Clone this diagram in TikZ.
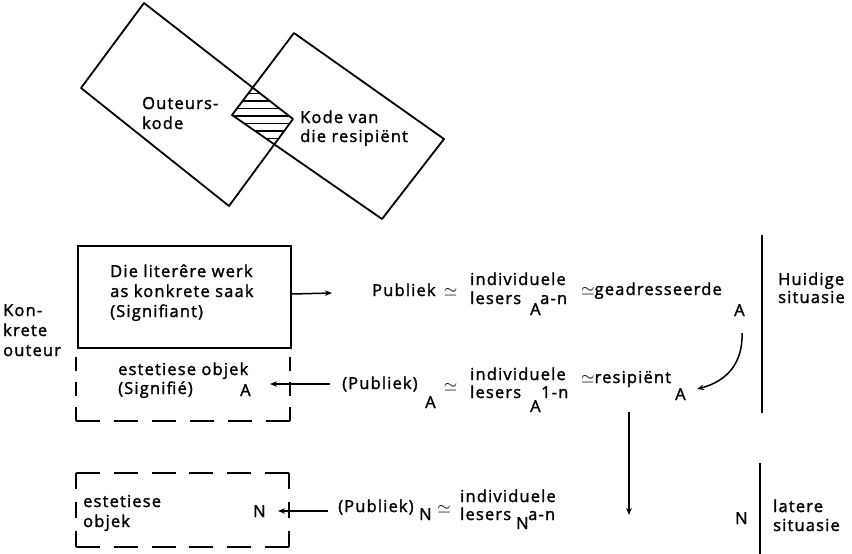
\documentclass[tikz,border=0pt]{standalone}
\usepackage{fontspec}
\setmainfont{Open Sans}[LetterSpace=7,FakeBold=1.6]
\usetikzlibrary{arrows.meta}

\begin{document}
\begin{tikzpicture}[x=1pt,y=-1pt,
  txt/.style={anchor=base west, inner sep=0pt, font=\fontsize{16.5}{20}\selectfont},
  mid/.style={anchor=base, inner sep=0pt, font=\fontsize{16.5}{20}\selectfont},
  frame/.style={inner sep=0pt, anchor=north west},
  edge/.style={line width=2pt},
  arr/.style={line width=1.5pt, -{Stealth[length=7pt,width=5.5pt]}},
  code/.style={line width=1.8pt, line join=round},
  hatch/.style={line width=1.7pt},
]
\useasboundingbox (0,0) rectangle (852,554);

% ---- the two overlapping codes ----
\coordinate (ol) at (81,88);
\coordinate (ot) at (144,3);
\coordinate (or) at (293,119);
\coordinate (ob) at (229,206);
\coordinate (rl) at (232,115);
\coordinate (rt) at (294,33);
\coordinate (rr) at (444,139);
\coordinate (rb) at (382,219);

\begin{scope}
  \clip (ol) -- (ot) -- (or) -- (ob) -- cycle;
  \clip (rl) -- (rt) -- (rr) -- (rb) -- cycle;
  \foreach \y in {86,93.5,...,152} \draw[hatch] (220,\y) -- (310,\y);
\end{scope}
\draw[code] (ol) -- (ot) -- (or) -- (ob) -- cycle;
\draw[code] (rl) -- (rt) -- (rr) -- (rb) -- cycle;

\node[txt] (ok1) at (142,109) {Outeurs-};
\node[txt] (ok2) at (142,129) {kode};
\node[txt] (rk1) at (300,123) {Kode van};
\node[txt] (rk2) at (300,142) {die resipiënt};

% ---- concrete author ----
\node[txt] (ko1) at (3,316) {Kon-};
\node[txt] (ko2) at (3,336) {krete};
\node[txt] (ko3) at (3,356) {outeur};

% ---- the literary work (signifiant) ----
\node[frame, draw, line width=2pt, minimum width=213pt, minimum height=102pt] (werk) at (77,245) {};
\node[txt] (w1) at (110,277) {Die literêre werk};
\node[txt] (w2) at (110,297) {as konkrete saak};
\node[txt] (w3) at (110,317) {(Signifiant)};

% ---- aesthetic object A (open top) ----
\node[frame, minimum width=214pt, minimum height=64pt] (obA) at (76,357) {};
\draw[edge, dash pattern=on 14pt off 11pt] (obA.north west) -- (obA.south west);
\draw[edge, dash pattern=on 24pt off 14pt] (obA.south west) -- (obA.south east);
\draw[edge, dash pattern=on 14pt off 11pt] (obA.north east) -- (obA.south east);
\node[txt] (a1) at (118,375) {estetiese objek};
\node[txt] (a2) at (118,394) {(Signifié)};
\node[txt] (a3) at (240,396) {A};

% ---- aesthetic object N ----
\node[frame, minimum width=213pt, minimum height=74pt] (obN) at (76,473) {};
\draw[edge, dash pattern=on 24pt off 13.8pt] (obN.north west) -- (obN.north east);
\draw[edge, dash pattern=on 24pt off 13.8pt] (obN.south west) -- (obN.south east);
\draw[edge, dash pattern=on 16pt off 13pt] (obN.north west) -- (obN.south west);
\draw[edge, dash pattern=on 16pt off 13pt] (obN.north east) -- (obN.south east);
\node[txt] (n1) at (83,507) {estetiese};
\node[txt] (n2) at (83,527) {objek};
\node[txt] (n3) at (253,517) {N};

% ---- row 1: present audience ----
\node[txt] (p1) at (372,296) {Publiek};
\node[mid] (e1) at (450.5,296) {$\simeq$};
\node[txt] (i1) at (470,285) {individuele};
\node[txt] (l1) at (470,304) {lesers};
\node[txt] (s1) at (530,315) {A};
\node[txt] (r1) at (540,304) {a-n};
\node[txt] (g1) at (581,295) {$\simeq$geadresseerde};
\node[txt] (gA) at (734,316) {A};
\node[txt] (h1) at (778,285) {Huidige};
\node[txt] (h2) at (778,303) {situasie};

% ---- row 2: audience A ----
\node[txt] (p2) at (342,389) {(Publiek)};
\node[txt] (s2a) at (425,408) {A};
\node[mid] (e2) at (450.5,391) {$\simeq$};
\node[txt] (i2) at (470,380) {individuele};
\node[txt] (l2) at (470,398) {lesers};
\node[txt] (s2) at (530,412) {A};
\node[txt] (r2) at (541,398) {1-n};
\node[txt] (g2) at (581,383) {$\simeq$resipiënt};
\node[txt] (rA) at (675,400) {A};

% ---- row 3: audience N ----
\node[txt] (p3) at (338,512) {(Publiek)};
\node[txt] (s3a) at (419,520) {N};
\node[mid] (e3) at (444,513) {$\simeq$};
\node[txt] (i3) at (460,502) {individuele};
\node[txt] (l3) at (460,520) {lesers};
\node[txt] (s3) at (516,529) {N};
\node[txt] (r3) at (528,520) {a-n};
\node[txt] (nN) at (735,524) {N};
\node[txt] (t1) at (773,512) {latere};
\node[txt] (t2) at (773,531) {situasie};

% ---- situation dividers ----
\coordinate (v1t) at (762,235);
\coordinate (v1b) at (762,413);
\coordinate (v2t) at (760,463);
\coordinate (v2b) at (760,554);
\draw[line width=2.2pt] (v1t) -- (v1b);
\draw[line width=2.2pt] (v2t) -- (v2b);

% ---- connectors ----
\coordinate (w1e) at (332,293);
\draw[arr] ([yshift=3pt]werk.east) -- (w1e);

\coordinate (q2s) at (330,384);
\coordinate (q2e) at (270,384);
\draw[arr] (q2s) -- (q2e);

\coordinate (q3s) at (328,511);
\coordinate (q3e) at (278,511);
\draw[arr] (q3s) -- (q3e);

\coordinate (c1) at (742,333);
\coordinate (c2) at (697,389);
\draw[arr] (c1) .. controls (743,362) and (728,381) .. (c2);

\coordinate (d1) at (629,412);
\coordinate (d2) at (629,515);
\draw[arr] (d1) -- (d2);
\end{tikzpicture}
\end{document}
